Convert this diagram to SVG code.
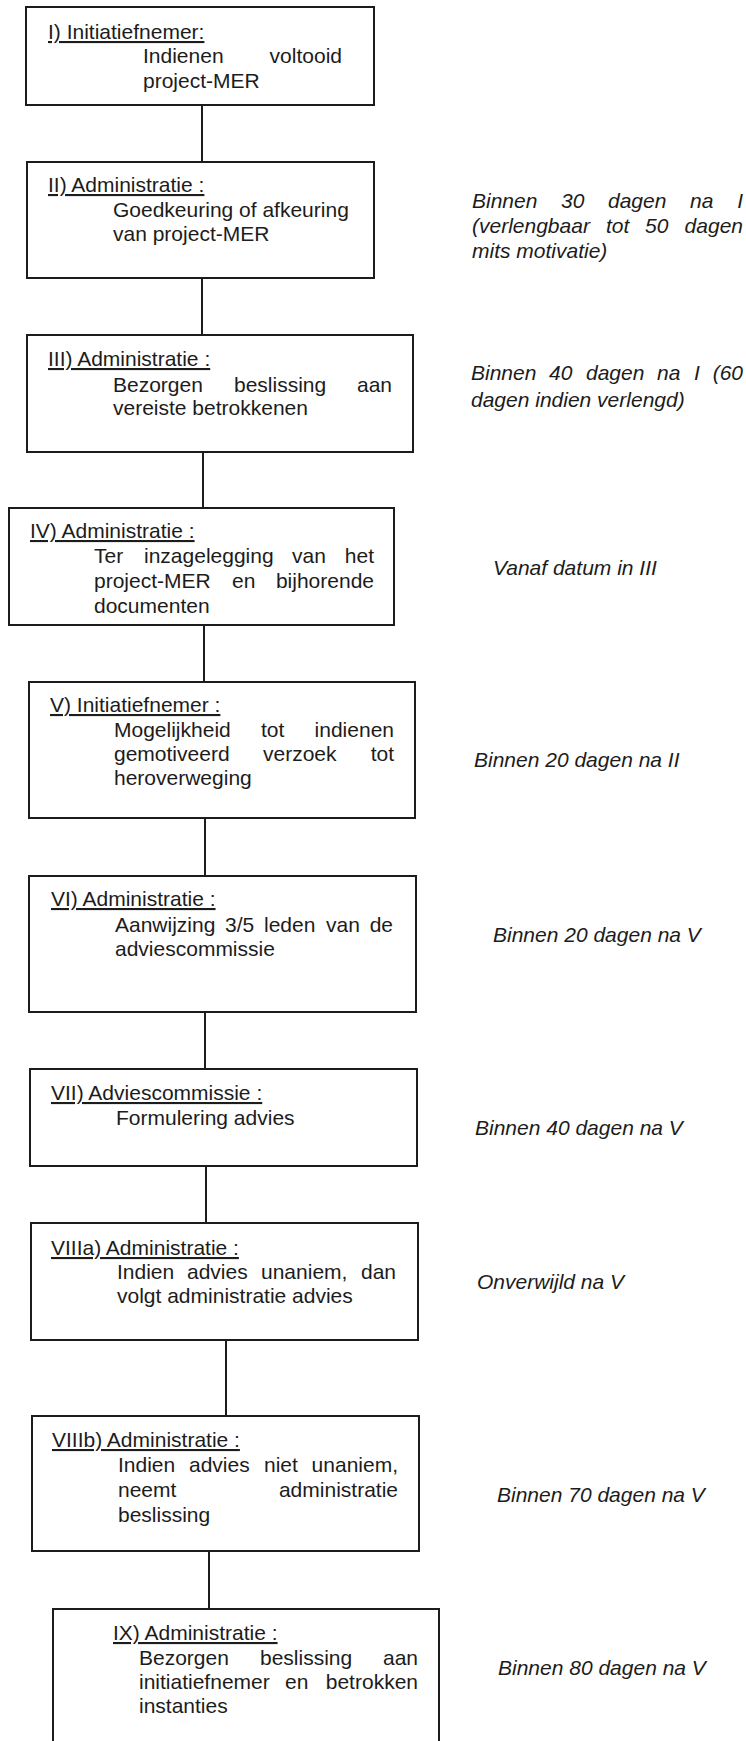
<svg xmlns="http://www.w3.org/2000/svg" width="746" height="1741" viewBox="0 0 746 1741">
<style>
text{font-family:"Liberation Sans",Arial,sans-serif;font-size:21px;fill:#1c1c1c}
.lbl{text-decoration:underline}
.note{font-style:italic}
.e{text-anchor:end}
.box{fill:#fff;stroke:#1c1c1c;stroke-width:2}
.conn{stroke:#1c1c1c;stroke-width:2;fill:none}
</style>
<rect width="746" height="1741" fill="#fff"/>
<g id="connectors">
<line class="conn" x1="202" y1="105" x2="202" y2="162"/>
<line class="conn" x1="202" y1="278" x2="202" y2="335"/>
<line class="conn" x1="203" y1="452" x2="203" y2="508"/>
<line class="conn" x1="204" y1="625" x2="204" y2="682"/>
<line class="conn" x1="205" y1="818" x2="205" y2="876"/>
<line class="conn" x1="205" y1="1012" x2="205" y2="1069"/>
<line class="conn" x1="206" y1="1166" x2="206" y2="1223"/>
<line class="conn" x1="226" y1="1340" x2="226" y2="1416"/>
<line class="conn" x1="209" y1="1551" x2="209" y2="1609"/>
</g>
<g id="node-I">
<rect class="box" x="26" y="7" width="348" height="98"/>
<text class="lbl" x="48" y="39">I) Initiatiefnemer:</text>
<text x="143" y="63">Indienen</text><text class="e" x="342" y="63">voltooid</text>
<text x="143" y="88">project-MER</text>
</g>
<g id="node-II">
<rect class="box" x="27" y="162" width="347" height="116"/>
<text class="lbl" x="48" y="192">II) Administratie :</text>
<text x="113" y="217">Goedkeuring of afkeuring</text>
<text x="113" y="241">van project-MER</text>
</g>
<g id="node-III">
<rect class="box" x="27" y="335" width="386" height="117"/>
<text class="lbl" x="48" y="366">III) Administratie :</text>
<text x="113" y="392">Bezorgen</text><text x="234" y="392">beslissing</text><text class="e" x="392" y="392">aan</text>
<text x="113" y="415">vereiste betrokkenen</text>
</g>
<g id="node-IV">
<rect class="box" x="9" y="508" width="385" height="117"/>
<text class="lbl" x="30" y="538">IV) Administratie :</text>
<text x="94" y="563">Ter</text><text x="144" y="563">inzagelegging</text><text x="292" y="563">van</text><text class="e" x="374" y="563">het</text>
<text x="94" y="588">project-MER</text><text x="232" y="588">en</text><text class="e" x="374" y="588">bijhorende</text>
<text x="94" y="613">documenten</text>
</g>
<g id="node-V">
<rect class="box" x="29" y="682" width="386" height="136"/>
<text class="lbl" x="50" y="712">V) Initiatiefnemer :</text>
<text x="114" y="737">Mogelijkheid</text><text x="261" y="737">tot</text><text class="e" x="394" y="737">indienen</text>
<text x="114" y="761">gemotiveerd</text><text x="263" y="761">verzoek</text><text class="e" x="394" y="761">tot</text>
<text x="114" y="785">heroverweging</text>
</g>
<g id="node-VI">
<rect class="box" x="29" y="876" width="387" height="136"/>
<text class="lbl" x="51" y="906">VI) Administratie :</text>
<text x="115" y="932">Aanwijzing</text><text x="225" y="932">3/5</text><text x="264" y="932">leden</text><text x="326" y="932">van</text><text class="e" x="393" y="932">de</text>
<text x="115" y="956">adviescommissie</text>
</g>
<g id="node-VII">
<rect class="box" x="30" y="1069" width="387" height="97"/>
<text class="lbl" x="51" y="1100">VII) Adviescommissie :</text>
<text x="116" y="1125">Formulering advies</text>
</g>
<g id="node-VIIIa">
<rect class="box" x="31" y="1223" width="387" height="117"/>
<text class="lbl" x="51" y="1255">VIIIa) Administratie :</text>
<text x="117" y="1279">Indien</text><text x="187" y="1279">advies</text><text x="261" y="1279">unaniem,</text><text class="e" x="396" y="1279">dan</text>
<text x="117" y="1303">volgt administratie advies</text>
</g>
<g id="node-VIIIb">
<rect class="box" x="32" y="1416" width="387" height="135"/>
<text class="lbl" x="52" y="1447">VIIIb) Administratie :</text>
<text x="118" y="1472">Indien</text><text x="189" y="1472">advies</text><text x="264" y="1472">niet</text><text class="e" x="398" y="1472">unaniem,</text>
<text x="118" y="1497">neemt</text><text class="e" x="398" y="1497">administratie</text>
<text x="118" y="1522">beslissing</text>
</g>
<g id="node-IX">
<rect class="box" x="53" y="1609" width="386" height="140"/>
<text class="lbl" x="113" y="1640">IX) Administratie :</text>
<text x="139" y="1665">Bezorgen</text><text x="260" y="1665">beslissing</text><text class="e" x="418" y="1665">aan</text>
<text x="139" y="1689">initiatiefnemer</text><text x="285" y="1689">en</text><text class="e" x="418" y="1689">betrokken</text>
<text x="139" y="1713">instanties</text>
</g>
<g id="notes">
<text class="note" x="472" y="208">Binnen</text><text class="note" x="561" y="208">30</text><text class="note" x="608" y="208">dagen</text><text class="note" x="690" y="208">na</text><text class="note e" x="743" y="208">I</text>
<text class="note" x="472" y="233">(verlengbaar</text><text class="note" x="606" y="233">tot</text><text class="note" x="645" y="233">50</text><text class="note e" x="743" y="233">dagen</text>
<text class="note" x="472" y="258">mits motivatie)</text>
<text class="note" x="471" y="380">Binnen</text><text class="note" x="549" y="380">40</text><text class="note" x="586" y="380">dagen</text><text class="note" x="657" y="380">na</text><text class="note" x="694" y="380">I</text><text class="note e" x="743" y="380">(60</text>
<text class="note" x="471" y="407">dagen indien verlengd)</text>
<text class="note" x="493" y="575">Vanaf datum in III</text>
<text class="note" x="474" y="767">Binnen 20 dagen na II</text>
<text class="note" x="493" y="942">Binnen 20 dagen na V</text>
<text class="note" x="475" y="1135">Binnen 40 dagen na V</text>
<text class="note" x="477" y="1289">Onverwijld na V</text>
<text class="note" x="497" y="1502">Binnen 70 dagen na V</text>
<text class="note" x="498" y="1675">Binnen 80 dagen na V</text>
</g>
</svg>
